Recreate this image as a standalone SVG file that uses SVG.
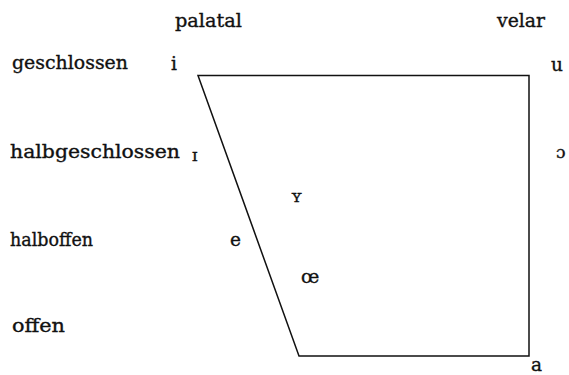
<svg xmlns="http://www.w3.org/2000/svg" width="569" height="375" viewBox="0 0 569 375">
<style>
text{font-family:"DejaVu Serif","Liberation Serif",serif;font-size:18.5px;fill:#111;stroke:#111;stroke-width:0.35}
.s{font-size:17px}
.line{fill:none;stroke:#111;stroke-width:1.5;stroke-linejoin:miter}
</style>
<rect width="569" height="375" fill="#fff"/>
<g id="connectors">
<path class="line" d="M198,75.5 L529,75.5 L529,356 L299,356 Z"/>
</g>
<g id="labels">
<text id="palatal" x="175" y="27" textLength="67" lengthAdjust="spacingAndGlyphs">palatal</text>
<text id="velar" x="497" y="27" textLength="48" lengthAdjust="spacingAndGlyphs">velar</text>
<text id="geschlossen" x="12" y="69" textLength="116" lengthAdjust="spacingAndGlyphs">geschlossen</text>
<text id="halbgeschlossen" x="10" y="158" textLength="170" lengthAdjust="spacingAndGlyphs">halbgeschlossen</text>
<text id="halboffen" x="10" y="246" textLength="83" lengthAdjust="spacingAndGlyphs">halboffen</text>
<text id="offen" x="12" y="332" textLength="53" lengthAdjust="spacingAndGlyphs">offen</text>
</g>
<g id="vowels">
<text id="v-i" x="171" y="70">i</text>
<text id="v-u" x="551" y="71">u</text>
<text id="v-I" class="s" x="192" y="161">ɪ</text>
<text id="v-o" class="s" x="556" y="158">ɔ</text>
<text id="v-Y" class="s" x="291" y="202">ʏ</text>
<text id="v-e" x="230" y="246">e</text>
<text id="v-oe" x="301" y="283">œ</text>
<text id="v-a" x="531" y="371">a</text>
</g>
</svg>
